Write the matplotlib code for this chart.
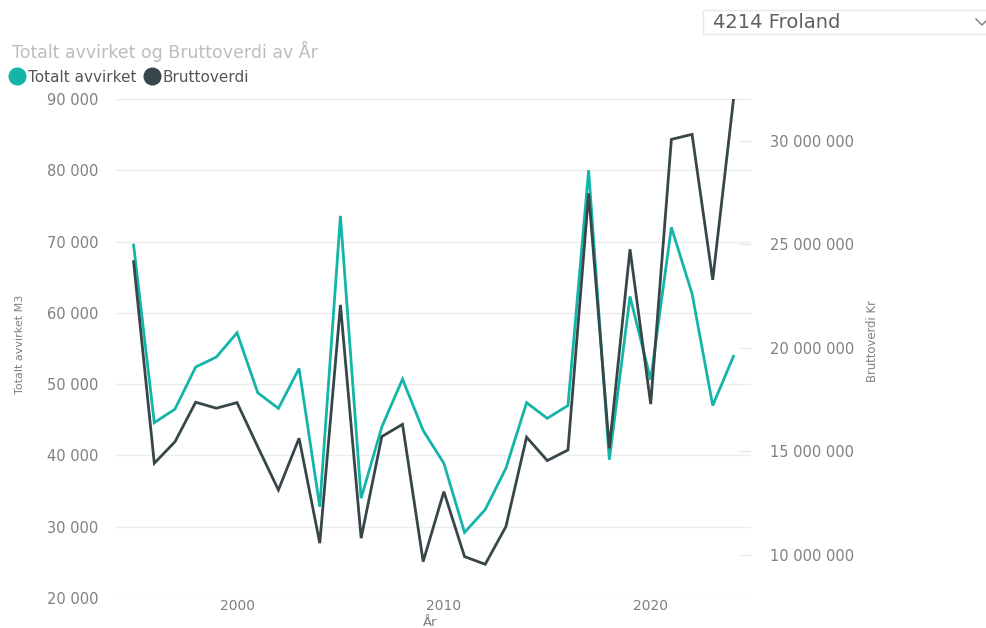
import matplotlib
matplotlib.use("Agg")
import matplotlib.pyplot as plt
from matplotlib.ticker import FuncFormatter, FixedLocator
from matplotlib.lines import Line2D
from matplotlib.patches import Rectangle

years = list(range(1995, 2025))
totalt_avvirket = [69500, 44600, 46500, 52400, 53800, 57200, 48800, 46600, 52200, 32800,
                   73600, 34000, 44000, 50700, 43500, 38900, 29200, 32400, 38200, 47400,
                   45200, 47000, 80000, 39400, 62300, 50600, 72000, 62700, 47000, 53900]
bruttoverdi = [24170000, 14430000, 15470000, 17380000, 17090000, 17360000, 15230000, 13140000,
               15640000, 10570000, 22080000, 10810000, 15720000, 16310000, 9680000, 13060000,
               9920000, 9550000, 11370000, 15690000, 14560000, 15070000, 27470000, 15150000,
               24770000, 17290000, 30080000, 30320000, 23290000, 31980000]

left_ticks = [20000, 30000, 40000, 50000, 60000, 70000, 80000, 90000]
right_ticks = [10000000, 15000000, 20000000, 25000000, 30000000]
x_ticks = [2000, 2010, 2020]

title = "Totalt avvirket og Bruttoverdi av År"
series_names = ["Totalt avvirket", "Bruttoverdi"]
slicer_text = "4214 Froland"

teal = "#12B5A8"
dark = "#374649"
tick_color = "#808080"
grid_color = "#ececec"

W, H = 987, 628
fig = plt.figure(figsize=(W / 100, H / 100), dpi=100)
fig.patch.set_facecolor("white")

ax = fig.add_axes([115 / W, 1 - 598 / H, (751 - 115) / W, (598 - 99) / H])
ax2 = ax.twinx()

def fmt(v, pos):
    return f"{int(round(v)):,}".replace(",", " ")

ax.plot(years, totalt_avvirket, color=teal, linewidth=2.0, solid_joinstyle="miter")
ax2.plot(years, bruttoverdi, color=dark, linewidth=2.0, solid_joinstyle="miter")

ax.set_xlim(1994.1, 2024.85)
ax.set_ylim(20000, 90000)
ax2.set_ylim(7920000, 32030000)

ax.yaxis.set_major_locator(FixedLocator(left_ticks))
ax2.yaxis.set_major_locator(FixedLocator(right_ticks))
ax.xaxis.set_major_locator(FixedLocator(x_ticks))
ax.yaxis.set_major_formatter(FuncFormatter(fmt))
ax2.yaxis.set_major_formatter(FuncFormatter(fmt))

for a in (ax, ax2):
    for s in a.spines.values():
        s.set_visible(False)

ax.grid(axis="y", color=grid_color, linewidth=1.0)
ax.set_axisbelow(True)
ax.tick_params(axis="y", length=0, pad=12, labelsize=10.5, labelcolor=tick_color)
ax.tick_params(axis="x", length=0, pad=1, labelsize=10, labelcolor=tick_color)
ax2.tick_params(axis="y", direction="in", length=9, width=1, color="#e6e6e6",
                pad=14, labelsize=10.5, labelcolor=tick_color)

fig.text(430 / W, 1 - 622.5 / H, "År", ha="center", va="center",
         fontsize=9.5, color=tick_color)

fig.text(20 / W, 1 - 344 / H, "Totalt avvirket M3", rotation=90, ha="center", va="center",
         fontsize=8, color=tick_color)
fig.text(873 / W, 1 - 341 / H, "Bruttoverdi Kr", rotation=90, ha="center", va="center",
         fontsize=8.4, color=tick_color)

fig.text(12 / W, 1 - 51 / H, title, ha="left", va="center", fontsize=12.5, color="#bdbdbd")

handles = [Line2D([], [], marker="o", linestyle="", color=teal, markersize=12),
           Line2D([], [], marker="o", linestyle="", color=dark, markersize=12)]
fig.legend(handles=handles, labels=series_names, loc="center left",
           bbox_to_anchor=(11 / W, 1 - 77 / H), ncol=2, frameon=False,
           handlelength=0.8, handletextpad=0.3, columnspacing=0.6,
           borderaxespad=0, borderpad=0, fontsize=11, labelcolor="#555555")

fig.add_artist(Rectangle((703 / W, 1 - 34 / H), (W - 703) / W, 24 / H,
                         transform=fig.transFigure, facecolor="white",
                         edgecolor="#e8e8e8", linewidth=1))
fig.text(713 / W, 1 - 23 / H, slicer_text, ha="left", va="center", fontsize=14,
         color="#606060")
fig.add_artist(Line2D([976 / W, 982 / W, 988 / W], [1 - 19 / H, 1 - 25 / H, 1 - 19 / H],
                      transform=fig.transFigure, color="#777777", linewidth=1))

fig.savefig("out.png", dpi=100, facecolor="white")
